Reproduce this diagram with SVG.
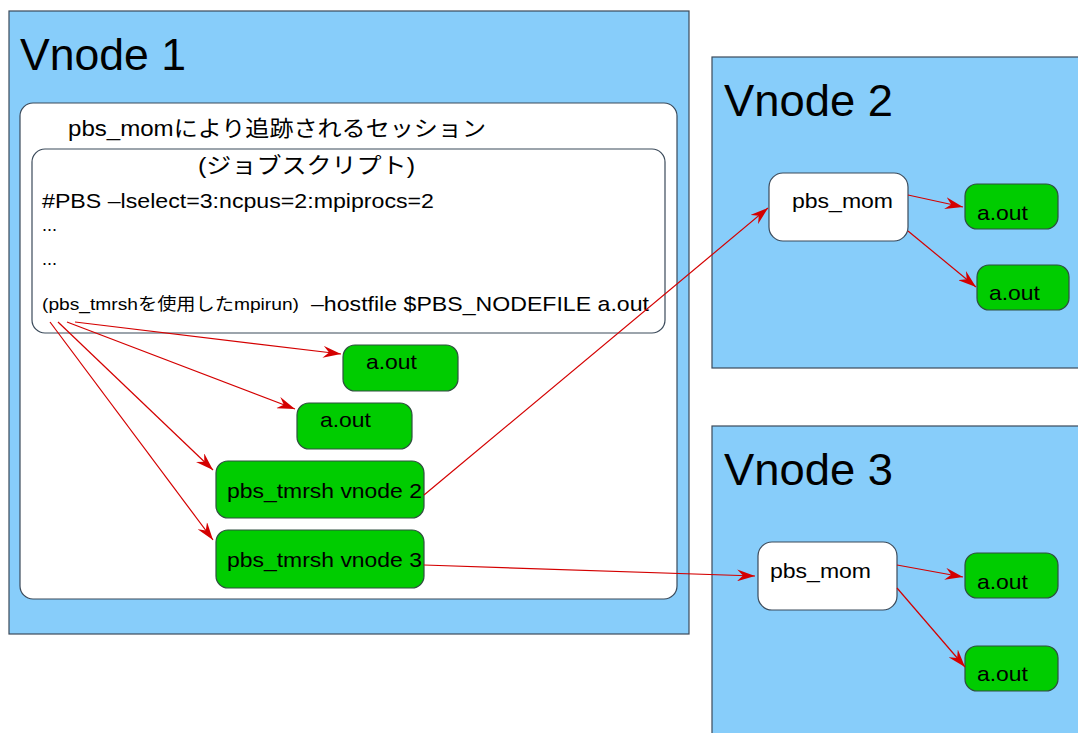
<svg xmlns="http://www.w3.org/2000/svg" width="1078" height="733" viewBox="0 0 1078 733">
<defs>
<marker id="arr" markerUnits="userSpaceOnUse" markerWidth="20" markerHeight="12" refX="18" refY="6" orient="auto">
<path d="M0,0 L18,6 L0,12 L6,6 z" fill="#d40000"/>
</marker>
</defs>
<style>
.vn{fill:#87cdfa;stroke:#3b4a5a;stroke-width:1.2}
.wb{fill:#ffffff;stroke:#3b4a5a;stroke-width:1.2}
.gb{fill:#00cc00;stroke:#2f4f3f;stroke-width:1.2}
.t{font-family:"Liberation Sans","Noto Sans CJK JP",sans-serif;fill:#000}
.title{font-size:45px}
.lbl{font-size:21px}
.e{stroke:#d40000;stroke-width:1.2;fill:none;marker-end:url(#arr)}
</style>
<rect width="1078" height="733" fill="#ffffff"/>
<g id="vnode1">
<rect class="vn" x="9" y="11" width="680" height="623"/>
<text class="t title" x="20" y="70" textLength="166" lengthAdjust="spacingAndGlyphs">Vnode 1</text>
</g>
<g id="session">
<rect class="wb" x="20" y="103" width="657" height="496" rx="13"/>
<text class="t" x="68" y="136" font-size="22" textLength="418" lengthAdjust="spacingAndGlyphs">pbs_momにより追跡されるセッション</text>
</g>
<g id="jobscript">
<rect class="wb" x="32" y="149" width="633" height="184" rx="13"/>
<text class="t" x="198" y="173" font-size="22" textLength="217" lengthAdjust="spacingAndGlyphs">(ジョブスクリプト)</text>
<text class="t" x="42" y="208" font-size="21" textLength="392" lengthAdjust="spacingAndGlyphs">#PBS –lselect=3:ncpus=2:mpiprocs=2</text>
<text class="t" x="42" y="231" font-size="18">...</text>
<text class="t" x="42" y="265" font-size="18">...</text>
<text class="t" x="42" y="310" font-size="17" textLength="257" lengthAdjust="spacingAndGlyphs">(pbs_tmrshを使用したmpirun)</text>
<text class="t" x="311" y="311" font-size="21" textLength="338" lengthAdjust="spacingAndGlyphs">–hostfile $PBS_NODEFILE a.out</text>
</g>
<g id="aout1a">
<rect class="gb" x="343" y="345" width="115" height="46" rx="12"/>
<text class="t lbl" x="366" y="369" textLength="51" lengthAdjust="spacingAndGlyphs">a.out</text>
</g>
<g id="aout1b">
<rect class="gb" x="297" y="403" width="115" height="46" rx="12"/>
<text class="t lbl" x="320" y="427" textLength="51" lengthAdjust="spacingAndGlyphs">a.out</text>
</g>
<g id="tmrsh2">
<rect class="gb" x="216" y="461" width="208" height="57" rx="12"/>
<text class="t lbl" x="227" y="498" textLength="195" lengthAdjust="spacingAndGlyphs">pbs_tmrsh vnode 2</text>
</g>
<g id="tmrsh3">
<rect class="gb" x="216" y="530" width="208" height="58" rx="12"/>
<text class="t lbl" x="227" y="567" textLength="195" lengthAdjust="spacingAndGlyphs">pbs_tmrsh vnode 3</text>
</g>
<g id="vnode2">
<rect class="vn" x="712" y="57" width="370" height="311"/>
<text class="t title" x="724" y="116" textLength="169" lengthAdjust="spacingAndGlyphs">Vnode 2</text>
</g>
<g id="mom2">
<rect class="wb" x="769" y="173" width="139" height="68" rx="14"/>
<text class="t lbl" x="792" y="208" textLength="101" lengthAdjust="spacingAndGlyphs">pbs_mom</text>
</g>
<g id="aout2a">
<rect class="gb" x="965" y="184" width="93" height="45" rx="12"/>
<text class="t lbl" x="977" y="220" textLength="51" lengthAdjust="spacingAndGlyphs">a.out</text>
</g>
<g id="aout2b">
<rect class="gb" x="977" y="265" width="92" height="45" rx="12"/>
<text class="t lbl" x="989" y="300" textLength="51" lengthAdjust="spacingAndGlyphs">a.out</text>
</g>
<g id="vnode3">
<rect class="vn" x="712" y="426" width="370" height="320"/>
<text class="t title" x="724" y="485" textLength="169" lengthAdjust="spacingAndGlyphs">Vnode 3</text>
</g>
<g id="mom3">
<rect class="wb" x="758" y="542" width="139" height="68" rx="14"/>
<text class="t lbl" x="770" y="578" textLength="101" lengthAdjust="spacingAndGlyphs">pbs_mom</text>
</g>
<g id="aout3a">
<rect class="gb" x="965" y="553" width="93" height="45" rx="12"/>
<text class="t lbl" x="977" y="589" textLength="51" lengthAdjust="spacingAndGlyphs">a.out</text>
</g>
<g id="aout3b">
<rect class="gb" x="965" y="646" width="93" height="45" rx="12"/>
<text class="t lbl" x="977" y="681" textLength="51" lengthAdjust="spacingAndGlyphs">a.out</text>
</g>
<g id="connectors">
<line class="e" x1="75" y1="322" x2="341" y2="354"/>
<line class="e" x1="67" y1="322" x2="295" y2="409"/>
<line class="e" x1="58" y1="322" x2="213" y2="470"/>
<line class="e" x1="50" y1="322" x2="213" y2="540"/>
<line class="e" x1="424" y1="495" x2="768" y2="208"/>
<line class="e" x1="424" y1="565" x2="755" y2="576"/>
<line class="e" x1="908" y1="195" x2="963" y2="207"/>
<line class="e" x1="908" y1="231" x2="976" y2="287"/>
<line class="e" x1="897" y1="565" x2="963" y2="577"/>
<line class="e" x1="897" y1="588" x2="965" y2="667"/>
</g>
</svg>
